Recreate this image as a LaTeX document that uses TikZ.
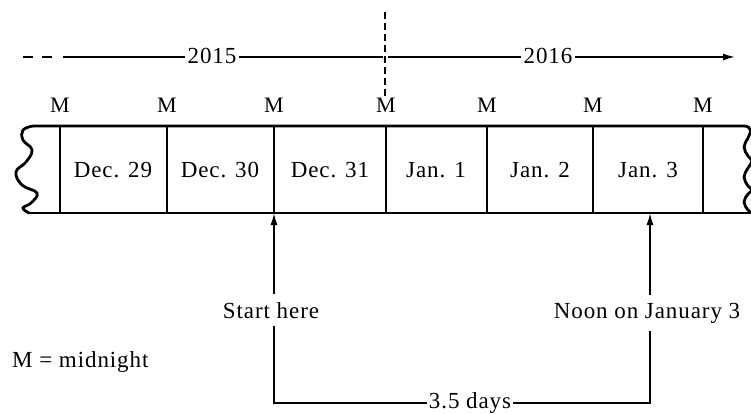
\documentclass[tikz,border=0pt]{standalone}
\usepackage{fontspec}
\setmainfont{Liberation Serif}[LetterSpace=4]
\usetikzlibrary{arrows.meta}
\begin{document}
\begin{tikzpicture}[x=1pt,y=-1pt,
  lbl/.style={font=\fontsize{23}{26}\selectfont, inner sep=2pt, anchor=base},
  mlbl/.style={font=\fontsize{22}{24}\selectfont, inner sep=1pt, anchor=base},
  tape/.style={line width=2.8pt},
  thinln/.style={line width=1.6pt},
  arr/.style={thinln,-{Latex[length=12pt,width=7pt]}}]
\useasboundingbox (0,0) rectangle (751,414);
\clip (0,0) rectangle (751,414);

% tape
\foreach \i/\x in {1/60,2/167,3/274,4/386,5/487,6/593,7/703}{
  \coordinate (t\i) at (\x,126);
  \coordinate (b\i) at (\x,213);
  \draw[tape] (t\i) -- (b\i);
  \node[mlbl] (m\i) at (\x,113) {M};
}
\draw[tape] (33,126) -- (744,126) .. controls (748,126) and (750,128) .. (751,131);
\draw[tape] (29,213) -- (751,213);
\draw[tape,line cap=round] plot[smooth,tension=0.7] coordinates
  {(33,126) (23,130) (23,140) (32,150) (26,162) (16,172) (22,185) (37,193) (31,203) (23,208) (29,213)};
\draw[tape] plot[smooth,tension=0.7] coordinates
  {(751,131) (748,138) (744,147) (748,156) (752,161) (748,168) (744,177) (748,186) (752,190) (748,194) (744,202) (748,210) (752,213)};

% day labels
\node[lbl] (d1) at (113,177) {Dec. 29};
\node[lbl] (d2) at (220,177) {Dec. 30};
\node[lbl] (d3) at (330,177) {Dec. 31};
\node[lbl] (d4) at (436,177) {Jan. 1};
\node[lbl] (d5) at (540,177) {Jan. 2};
\node[lbl] (d6) at (648,177) {Jan. 3};

% year line
\coordinate (yl) at (0,57);
\node[lbl] (y15) at (212,64) {2015};
\node[lbl] (y16) at (548,64) {2016};
\coordinate (ys) at (23,57);
\coordinate (ya) at (63,57);
\coordinate (yb) at (383,57);
\coordinate (yc) at (388,57);
\coordinate (ye) at (735,57);
\draw[thinln,dash pattern=on 10pt off 9pt] (ys) -- (53,57);
\draw[thinln] (ya) -- (y15.west |- yl);
\draw[thinln] (y15.east |- yl) -- (yb);
\draw[thinln] (yc) -- (y16.west |- yl);
\draw[arr] (y16.east |- yl) -- (ye);
\coordinate (vt) at (385,12);
\coordinate (vb) at (385,97);
\draw[thinln,dash pattern=on 7pt off 4pt] (vt) -- (vb);

% arrows to tape
\coordinate (p3) at (274,213);
\coordinate (p6) at (650,213);
\node[lbl,inner ysep=8pt] (start) at (271,318) {Start here};
\node[lbl,inner ysep=8pt] (noon) at (647,318) {Noon on January 3};
\draw[arr] (p3 |- start.north) -- (p3);
\draw[arr] (p6 |- noon.north) -- (p6);

\node[lbl] (days) at (470,408) {3.5 days};
\coordinate (hl) at (0,403);
\draw[thinln] (p3 |- start.south) -- (p3 |- hl) -- (days.west |- hl);
\draw[thinln] (p6 |- noon.south) -- (p6 |- hl) -- (days.east |- hl);

\node[lbl,anchor=base west] (key) at (10,367) {M = midnight};
\end{tikzpicture}
\end{document}
